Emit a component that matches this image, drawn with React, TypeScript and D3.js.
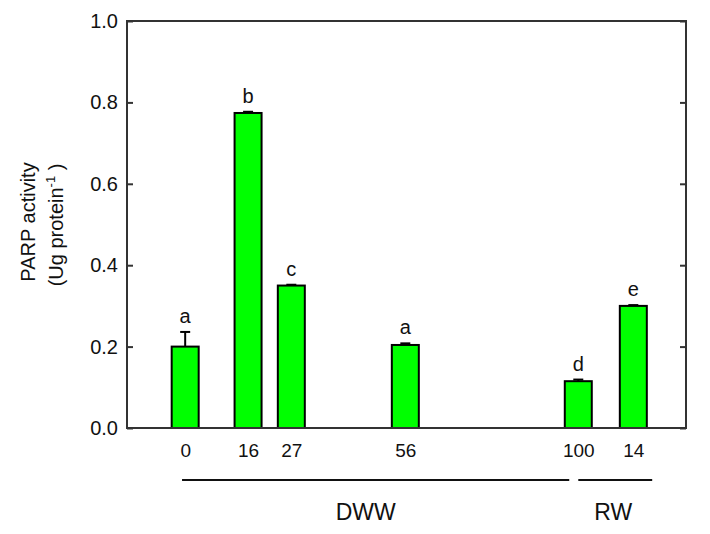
import React, { useEffect, useRef } from 'react'
import * as d3 from 'd3'

const width = 710
const height = 534
const margin = { top: 21, left: 127, bottom: 106, right: 24 }
const iwidth = width - margin.left - margin.right
const iheight = height - margin.top - margin.bottom

// days of treatment (RW day 14 sits after DWW day 100)
const days = [0, 16, 27, 56, 100, 114]
const dayLabels = ['0', '16', '27', '56', '100', '14']
const values = [0.2, 0.774, 0.35, 0.204, 0.115, 0.3]
const errors = [0.036, 0.003, 0.002, 0.004, 0.004, 0.002]
const letters = ['a', 'b', 'c', 'a', 'd', 'e']

const groupNames = ['DWW', 'RW']
const groupStart = [-0.8, 100]
const groupEnd = [97.7, 118.8]

const yTicks = [0, 0.2, 0.4, 0.6, 0.8, 1.0]

const font = '"Liberation Sans", Arial, sans-serif'
const ink = '#111'

const App = () => {
  const svgR = useRef(null)

  useEffect(() => {
    const svg = d3.select(svgR.current)
    svg.selectAll('*').remove()

    const g = svg.append('g').attr('transform', `translate(${margin.left},${margin.top})`)

    const x = d3.scaleLinear().domain([-14.8, 127.4]).range([0, iwidth])
    const y = d3.scaleLinear().domain([0, 1]).range([iheight, 0])
    const barW = 27

    // bars
    g.selectAll('rect.bar')
      .data(values)
      .enter()
      .append('rect')
      .attr('class', 'bar')
      .attr('x', (d, i) => x(days[i]) - barW / 2)
      .attr('y', d => y(d))
      .attr('width', barW)
      .attr('height', d => iheight - y(d))
      .style('fill', '#00ff00')
      .style('stroke', '#000')
      .style('stroke-width', 2)

    // error bars (upper only)
    const eb = g.selectAll('g.err').data(values).enter().append('g').attr('class', 'err')
    eb.append('line')
      .attr('x1', (d, i) => x(days[i]))
      .attr('x2', (d, i) => x(days[i]))
      .attr('y1', d => y(d))
      .attr('y2', (d, i) => y(d + errors[i]))
      .style('stroke', '#000')
      .style('stroke-width', 2)
    eb.append('line')
      .attr('x1', (d, i) => x(days[i]) - 5)
      .attr('x2', (d, i) => x(days[i]) + 5)
      .attr('y1', (d, i) => y(d + errors[i]))
      .attr('y2', (d, i) => y(d + errors[i]))
      .style('stroke', '#000')
      .style('stroke-width', 2)

    // significance letters
    g.selectAll('text.letter')
      .data(letters)
      .enter()
      .append('text')
      .attr('class', 'letter')
      .attr('x', (d, i) => x(days[i]))
      .attr('y', (d, i) => y(values[i] + errors[i]) - 9)
      .attr('text-anchor', 'middle')
      .style('font-family', font)
      .style('font-size', '20px')
      .style('fill', ink)
      .text(d => d)

    // frame
    g.append('rect')
      .attr('width', iwidth)
      .attr('height', iheight)
      .style('fill', 'none')
      .style('stroke', '#333')
      .style('stroke-width', 2)

    const yAxis = g.append('g')
      .call(d3.axisLeft(y).tickValues(yTicks).tickFormat(d3.format('.1f')).tickSizeInner(-6).tickSizeOuter(0).tickPadding(9))
    yAxis.select('.domain').remove()
    yAxis.selectAll('line').style('stroke', '#333').style('stroke-width', 2)
    yAxis.selectAll('text').style('font-family', font).style('font-size', '20px').style('fill', ink)

    const yAxisR = g.append('g')
      .attr('transform', `translate(${iwidth},0)`)
      .call(d3.axisRight(y).tickValues(yTicks).tickFormat(() => '').tickSizeInner(-6).tickSizeOuter(0))
    yAxisR.select('.domain').remove()
    yAxisR.selectAll('line').style('stroke', '#333').style('stroke-width', 2)

    const xAxis = g.append('g')
      .attr('transform', `translate(0,${iheight})`)
      .call(d3.axisBottom(x).tickValues(days).tickFormat((d, i) => dayLabels[i]).tickSize(0).tickPadding(15.5))
    xAxis.select('.domain').remove()
    xAxis.selectAll('text').style('font-family', font).style('font-size', '19px').style('fill', ink)

    // group brackets
    groupNames.forEach((name, i) => {
      g.append('line')
        .attr('x1', x(groupStart[i]))
        .attr('x2', x(groupEnd[i]))
        .attr('y1', iheight + 52)
        .attr('y2', iheight + 52)
        .style('stroke', '#111')
        .style('stroke-width', 2)
      g.append('text')
        .attr('x', (x(groupStart[i]) + x(groupEnd[i])) / 2 + (i === 0 ? -10 : -2))
        .attr('y', iheight + 92)
        .attr('text-anchor', 'middle')
        .style('font-family', font)
        .style('font-size', '23px')
        .style('fill', ink)
        .text(name)
    })

    // y label
    svg.append('text')
      .attr('transform', 'translate(35,222) rotate(-90)')
      .attr('text-anchor', 'middle')
      .style('font-family', font)
      .style('font-size', '20px')
      .style('fill', ink)
      .text('PARP activity')
    const l2 = svg.append('text')
      .attr('transform', 'translate(63,225) rotate(-90)')
      .attr('text-anchor', 'middle')
      .style('font-family', font)
      .style('font-size', '20px')
      .style('fill', ink)
    l2.append('tspan').text('(Ug protein')
    l2.append('tspan').attr('dy', -8).style('font-size', '13px').text('-1')
    l2.append('tspan').attr('dy', 8).text(' )')
  }, [])

  return (
    <svg ref={svgR} width={width} height={height}
      style={{ position: 'absolute', left: 0, top: 0, background: '#fff' }} />
  )
}

export default App
